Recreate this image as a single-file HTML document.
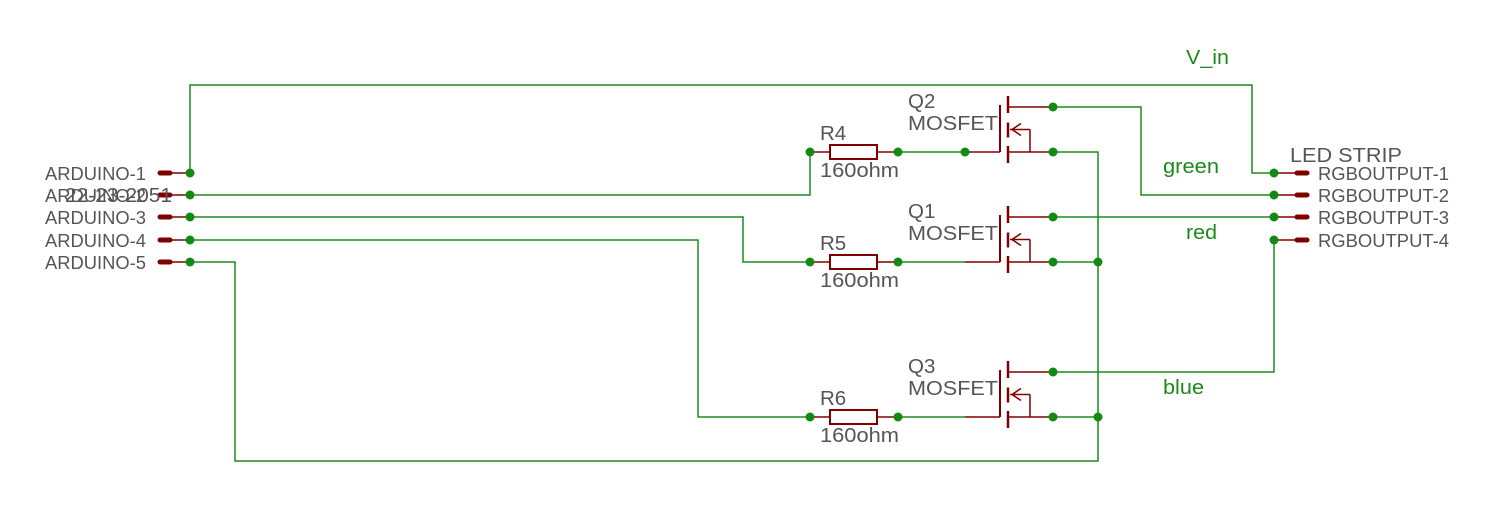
<!DOCTYPE html>
<html><head><meta charset="utf-8"><style>
html,body{margin:0;padding:0;background:#fff;}
svg{display:block;}
text{font-family:"Liberation Sans",sans-serif;}
.g{fill:#555;font-size:20.5px;}
.a{fill:#555;font-size:18px;}
.s{fill:#555;font-size:18px;}
.n{fill:#1a8a1a;font-size:20px;}
</style></head><body>
<svg id="sv" width="1496" height="514" viewBox="0 0 1496 514" xmlns="http://www.w3.org/2000/svg">
<g fill="none" stroke="#1e8a1e" stroke-width="1.5">
<polyline points="190,173 190,85 1252,85 1252,173 1274,173"/>
<polyline points="190,195 810,195 810,152"/>
<polyline points="190,217 743,217 743,262 810,262"/>
<polyline points="190,240 698,240 698,417 810,417"/>
<polyline points="190,262 235,262 235,461 1098,461 1098,152 1053,152"/>
<polyline points="1053,107 1141,107 1141,195 1274,195"/>
<line x1="1053" y1="217" x2="1274" y2="217"/>
<polyline points="1053,372 1274,372 1274,240"/>
<line x1="1053" y1="262" x2="1098" y2="262"/>
<line x1="1053" y1="417" x2="1098" y2="417"/>
<line x1="898" y1="152" x2="965" y2="152"/>
<line x1="898" y1="262" x2="965" y2="262"/>
<line x1="898" y1="417" x2="965" y2="417"/>
</g>
<g id="parts" stroke="#800000" fill="none"></g>
<g id="dots" fill="#138a13"></g>
<text class="a" x="45" y="180" textLength="101" lengthAdjust="spacingAndGlyphs">ARDUINO-1</text>
<text class="a" x="45" y="202" textLength="101" lengthAdjust="spacingAndGlyphs">ARDUINO-2</text>
<text class="g" x="65" y="202" textLength="107" lengthAdjust="spacingAndGlyphs">22-23-2051</text>
<text class="a" x="45" y="224" textLength="101" lengthAdjust="spacingAndGlyphs">ARDUINO-3</text>
<text class="a" x="45" y="247" textLength="101" lengthAdjust="spacingAndGlyphs">ARDUINO-4</text>
<text class="a" x="45" y="269" textLength="101" lengthAdjust="spacingAndGlyphs">ARDUINO-5</text>
<text class="s" x="1318" y="180" textLength="131" lengthAdjust="spacingAndGlyphs">RGBOUTPUT-1</text>
<text class="s" x="1318" y="202" textLength="131" lengthAdjust="spacingAndGlyphs">RGBOUTPUT-2</text>
<text class="s" x="1318" y="224" textLength="131" lengthAdjust="spacingAndGlyphs">RGBOUTPUT-3</text>
<text class="s" x="1318" y="247" textLength="131" lengthAdjust="spacingAndGlyphs">RGBOUTPUT-4</text>
<text class="g" x="1290" y="162" textLength="112" lengthAdjust="spacingAndGlyphs">LED STRIP</text>
<text class="n" x="1186" y="64" textLength="43" lengthAdjust="spacingAndGlyphs">V_in</text>
<text class="n" x="1163" y="173" textLength="56" lengthAdjust="spacingAndGlyphs">green</text>
<text class="n" x="1186" y="239" textLength="31" lengthAdjust="spacingAndGlyphs">red</text>
<text class="n" x="1163" y="394" textLength="41" lengthAdjust="spacingAndGlyphs">blue</text>
<text class="g" x="820" y="140">R4</text><text class="g" x="820" y="177" textLength="79" lengthAdjust="spacingAndGlyphs">160ohm</text>
<text class="g" x="820" y="250">R5</text><text class="g" x="820" y="287" textLength="79" lengthAdjust="spacingAndGlyphs">160ohm</text>
<text class="g" x="820" y="405">R6</text><text class="g" x="820" y="442" textLength="79" lengthAdjust="spacingAndGlyphs">160ohm</text>
<text class="g" x="908" y="108">Q2</text><text class="g" x="908" y="130" textLength="90" lengthAdjust="spacingAndGlyphs">MOSFET</text>
<text class="g" x="908" y="218">Q1</text><text class="g" x="908" y="240" textLength="90" lengthAdjust="spacingAndGlyphs">MOSFET</text>
<text class="g" x="908" y="373">Q3</text><text class="g" x="908" y="395" textLength="90" lengthAdjust="spacingAndGlyphs">MOSFET</text>
</svg>
<script>
var P=document.getElementById('parts'),D=document.getElementById('dots'),h='',d='';
function L(a,b,c,e,w){h+='<line x1="'+a+'" y1="'+b+'" x2="'+c+'" y2="'+e+'" stroke-width="'+(w||1.5)+'"/>';}
function dot(x,y){d+='<circle cx="'+x+'" cy="'+y+'" r="4.5"/>';}
[173,195,217,240,262].forEach(function(y){L(172,y,190,y);h+='<line x1="160" y1="'+y+'" x2="170" y2="'+y+'" stroke-width="5" stroke-linecap="round"/>';dot(190,y);});
[173,195,217,240].forEach(function(y){L(1274,y,1295,y);h+='<line x1="1297" y1="'+y+'" x2="1307" y2="'+y+'" stroke-width="5" stroke-linecap="round"/>';dot(1274,y);});
[152,262,417].forEach(function(y){L(810,y,830,y);L(877,y,898,y);h+='<rect x="830" y="'+(y-7)+'" width="47" height="14" stroke-width="2"/>';dot(810,y);dot(898,y);});
[[152,107],[262,217],[417,372]].forEach(function(q){var s=q[0],t=q[1],m=(s+t)/2;
L(965,s,1000,s);L(1000,t-2,1000,s,2);
L(1008,t-11,1008,t+6,2.5);L(1008,m-7,1008,m+8,2.5);L(1008,s-6,1008,s+11,2.5);
L(1008,t,1053,t);L(1008,s,1053,s);L(1010,m,1030,m);L(1030,m,1030,s);
h+='<polyline points="1021,'+(m-6)+' 1012,'+m+' 1021,'+(m+6)+'" stroke-width="1.5"/>';
dot(1053,t);dot(1053,s);});
dot(965,152);dot(1098,262);dot(1098,417);
P.innerHTML=h;D.innerHTML=d;
</script>
</body></html>
